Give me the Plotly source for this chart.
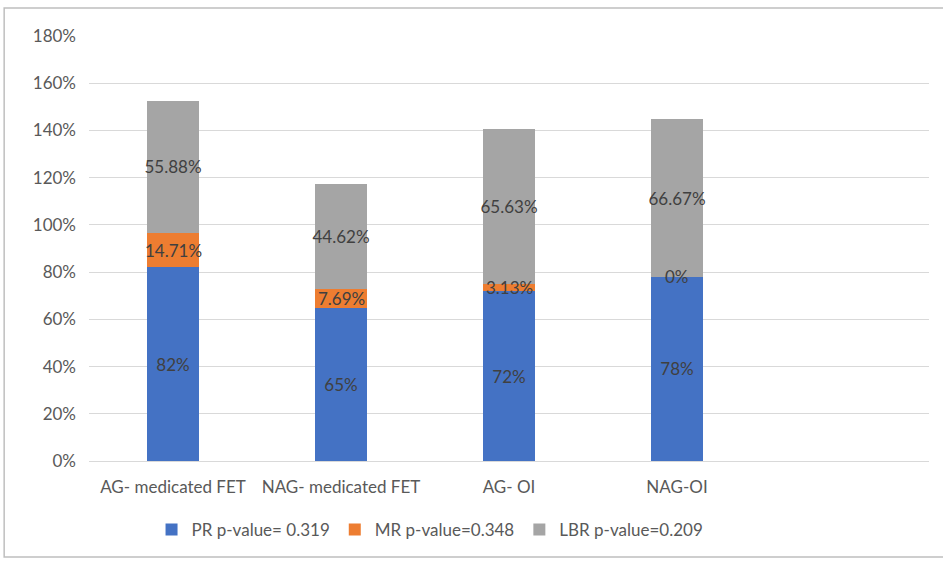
import plotly.graph_objects as go

# Treatment groups (a fifth, empty slot keeps the spacing on the right)
categories = ["AG- medicated FET", "NAG- medicated FET", "AG- OI", "NAG-OI"]

pr_values = [82, 65, 72, 78]
mr_values = [14.71, 7.69, 3.13, 0]
lbr_values = [55.88, 44.62, 65.63, 66.67]

pr_labels = ["82%", "65%", "72%", "78%"]
mr_labels = ["14.71%", "7.69%", "3.13%", "0%"]
lbr_labels = ["55.88%", "44.62%", "65.63%", "66.67%"]

series_names = ["PR p-value= 0.319", "MR p-value=0.348", "LBR p-value=0.209"]
y_ticks = [0, 20, 40, 60, 80, 100, 120, 140, 160, 180]
y_ticktext = [f"{v}%" for v in y_ticks]

FONT = "Lato"
TEXT_GREY = "#595959"
LABEL_GREY = "#404040"
SIZE = 17

fig = go.Figure()
for name, vals, labels, color in [
    (series_names[0], pr_values, pr_labels, "#4472C4"),
    (series_names[1], mr_values, None, "#ED7D31"),
    (series_names[2], lbr_values, lbr_labels, "#A5A5A5"),
]:
    fig.add_trace(go.Bar(
        x=categories, y=vals, name=name,
        marker=dict(color=color, line=dict(width=0)),
        text=labels, textposition="inside" if labels else "none",
        insidetextanchor="middle",
        constraintext="none", textangle=0, cliponaxis=False,
        textfont=dict(family=FONT, size=SIZE, color=LABEL_GREY),
        hoverinfo="skip",
    ))

# MR segments are thin (or empty), so their labels sit on top of every bar,
# centred on the segment's stack position
annotations = [
    dict(
        x=cat, y=pr_values[i] + mr_values[i] / 2, xref="x", yref="y",
        text=mr_labels[i], showarrow=False,
        font=dict(family=FONT, size=SIZE, color=LABEL_GREY),
    )
    for i, cat in enumerate(categories)
]

fig.update_layout(
    barmode="stack",
    bargap=0.69,
    width=943, height=562,
    margin=dict(l=89, r=14, t=36, b=101),
    paper_bgcolor="white", plot_bgcolor="white",
    font=dict(family=FONT, size=SIZE, color=TEXT_GREY),
    showlegend=True,
    legend=dict(
        orientation="h", x=0.406, xanchor="center", y=-0.162, yanchor="middle",
        font=dict(family=FONT, size=SIZE, color=TEXT_GREY),
        itemwidth=30, traceorder="normal",
    ),
    xaxis=dict(
        type="category", range=[-0.5, 4.5],
        showgrid=False, showline=False, zeroline=False,
        ticks="", ticklabelstandoff=14,
        tickfont=dict(family=FONT, size=SIZE, color=TEXT_GREY),
    ),
    yaxis=dict(
        range=[0, 180], tickmode="array", tickvals=y_ticks, ticktext=y_ticktext,
        showgrid=True, gridcolor="#d9d9d9", gridwidth=1,
        zeroline=True, zerolinecolor="#d9d9d9", zerolinewidth=1,
        showline=False, ticks="", ticklabelstandoff=12,
        tickfont=dict(family=FONT, size=SIZE, color=TEXT_GREY),
    ),
    annotations=annotations,
    shapes=[dict(
        type="rect", xref="paper", yref="paper",
        x0=-0.101, x1=1.08, y0=-0.226, y1=1.066,
        line=dict(color="#bfbfbf", width=1.5), fillcolor="rgba(0,0,0,0)",
        layer="below",
    )],
)

fig.write_html("out.html")
